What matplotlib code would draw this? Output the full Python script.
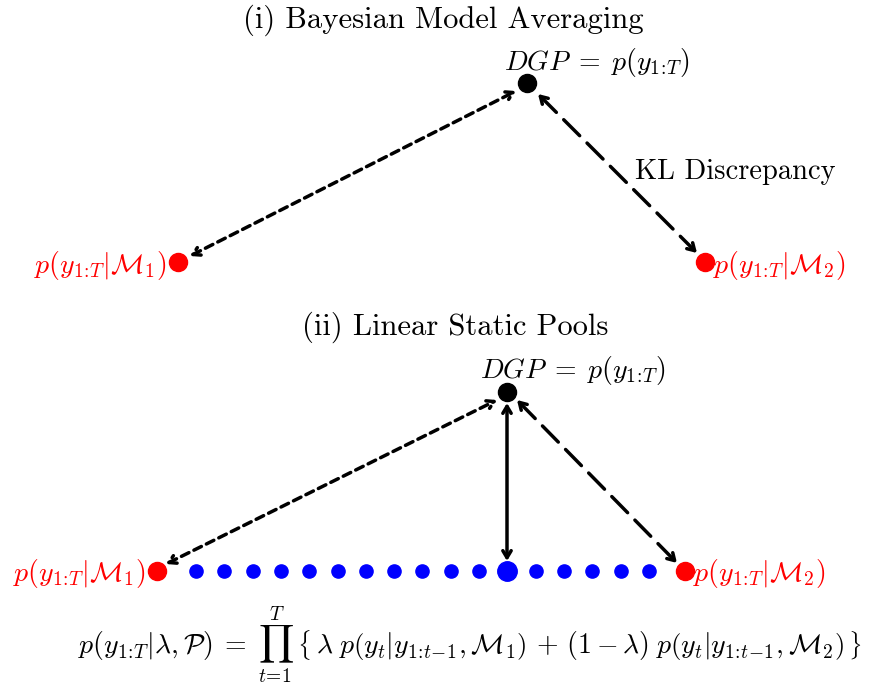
import matplotlib
matplotlib.use('Agg')
import matplotlib.pyplot as plt

plt.rcParams['font.family'] = 'serif'
plt.rcParams['font.serif'] = ['cmr10']
plt.rcParams['mathtext.fontset'] = 'cm'
plt.rcParams['axes.formatter.use_mathtext'] = True

# node positions (pixel-like canvas coordinates)
top_dgp = (527, 83)
top_m1 = (178, 262)
top_m2 = (705, 262)

bot_dgp = (507, 392)
bot_m1 = (157, 571)
bot_m2 = (685, 571)

# pooling weights along the segment between the two models
pool_x = [196 + 28.3 * k for k in range(17)]
pool_big = 11

dgp_label = r'$DGP\;=\;p(y_{1\!:\!T})$'
m1_label = r'$p(y_{1\!:\!T}|\mathcal{M}_1)$'
m2_label = r'$p(y_{1\!:\!T}|\mathcal{M}_2)$'
formula = (r'$p(y_{1\!:\!T}|\lambda,\mathcal{P})\;=\;\prod_{t\!=\!1}^{T}\;\left\{\,\lambda\;'
           r'p\left(y_t|y_{1\!:\!t\!-\!1},\mathcal{M}_1\right)\,+\,(1-\lambda)\;'
           r'p\left(y_t|y_{1\!:\!t\!-\!1},\mathcal{M}_2\right)\,\right\}$')

fig = plt.figure(figsize=(8.72, 6.94), dpi=100)
ax = fig.add_axes([0, 0, 1, 1])
ax.set_xlim(0, 872)
ax.set_ylim(694, 0)
ax.axis('off')


def arrow(p0, p1, ls):
    ax.annotate('', xy=p1, xytext=p0,
                arrowprops=dict(arrowstyle='<->,head_length=0.5,head_width=0.3',
                                lw=2.5, ls=ls, color='black',
                                shrinkA=0, shrinkB=0))


dotted = (0, (2.4, 1.6))
dashed = (0, (6.5, 3))

# (i) Bayesian model averaging
ax.text(443, 20, '(i) Bayesian Model Averaging', fontsize=22, ha='center', va='center')
ax.plot(*top_dgp, 'o', color='black', ms=13)
ax.plot(*top_m1, 'o', color='red', ms=13)
ax.plot(*top_m2, 'o', color='red', ms=13)
arrow((190, 256), (516, 91), dotted)
arrow((538, 94), (697, 253), dashed)
ax.text(597, 62, dgp_label, fontsize=20, ha='center', va='center')
ax.text(167, 265, m1_label, fontsize=20, ha='right', va='center', color='red')
ax.text(713, 265, m2_label, fontsize=20, ha='left', va='center', color='red')
ax.text(735, 172, 'KL Discrepancy', fontsize=20.5, ha='center', va='center')

# (ii) Linear static pools
ax.text(455, 327, '(ii) Linear Static Pools', fontsize=22, ha='center', va='center')
for k, x in enumerate(pool_x):
    ax.plot(x, bot_m1[1], 'o', color='blue', ms=14 if k == pool_big else 9.5)
ax.plot(*bot_dgp, 'o', color='black', ms=13)
ax.plot(*bot_m1, 'o', color='red', ms=13)
ax.plot(*bot_m2, 'o', color='red', ms=13)
arrow((166, 564), (497, 400), dotted)
arrow((507, 403), (507, 561), 'solid')
arrow((517, 400), (677, 563), dashed)
ax.text(573, 370, dgp_label, fontsize=20, ha='center', va='center')
ax.text(146, 574, m1_label, fontsize=20, ha='right', va='center', color='red')
ax.text(693, 574, m2_label, fontsize=20, ha='left', va='center', color='red')

ax.text(470, 645, formula, fontsize=20, ha='center', va='center')

fig.savefig('out.png', dpi=100)
